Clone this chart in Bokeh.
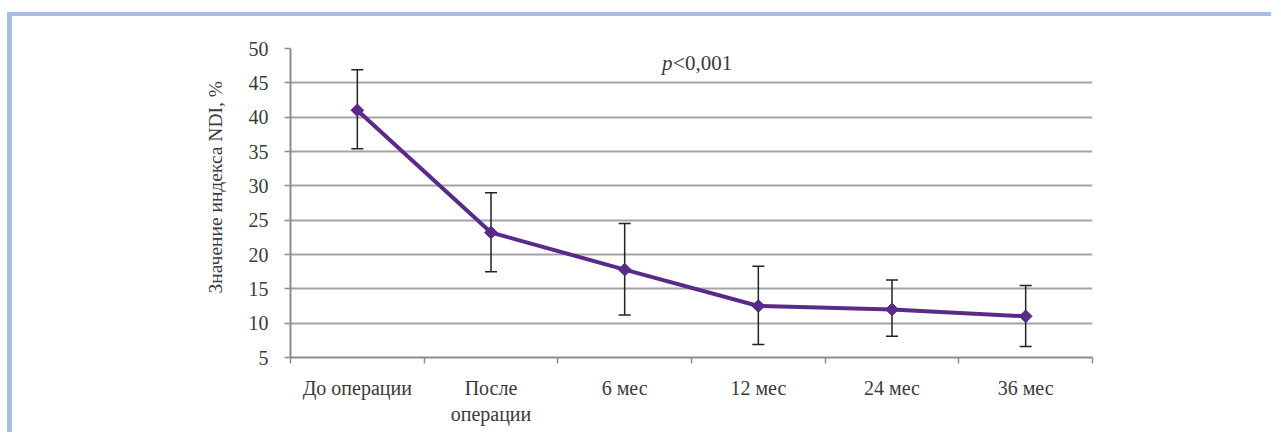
from bokeh.plotting import figure
from bokeh.models import (ColumnDataSource, FixedTicker, Whisker, TeeHead, Label, Range1d, Title)
from bokeh.embed import file_html
from bokeh.resources import INLINE

# ---- data ----
categories = ["До операции", "После\nоперации", "6 мес", "12 мес", "24 мес", "36 мес"]
ndi_mean = [41.0, 23.2, 17.8, 12.5, 12.0, 11.0]
ndi_upper = [46.9, 29.0, 24.5, 18.3, 16.3, 15.5]
ndi_lower = [35.4, 17.5, 11.2, 6.9, 8.1, 6.6]
y_ticks = [5, 10, 15, 20, 25, 30, 35, 40, 45, 50]
y_label = "Значение индекса NDI, %"
p_text_italic = "p"
p_text_rest = "<0,001"

FONT = "Liberation Serif"
TXT = "#3a3a3a"
GRID = "#a3a3a3"
PURPLE = "#5a2a88"
FRAME_BLUE = "#a9bedf"

xpos = [i + 0.5 for i in range(len(categories))]
src = ColumnDataSource(dict(x=xpos, y=ndi_mean, up=ndi_upper, lo=ndi_lower))

p = figure(width=1264, height=420, output_backend="svg", toolbar_location=None,
           x_range=Range1d(0, len(categories)), y_range=Range1d(5, 50),
           min_border_left=278, min_border_right=184, min_border_top=32, min_border_bottom=79)
p.styles = {"border-top": f"4px solid {FRAME_BLUE}", "border-left": f"5px solid {FRAME_BLUE}",
            "margin-top": "12px", "margin-left": "7px"}
p.outline_line_color = None
p.background_fill_color = "white"
p.border_fill_color = "white"

# axes
p.xaxis.ticker = FixedTicker(ticks=xpos, minor_ticks=list(range(len(categories) + 1)))
p.xaxis.major_label_overrides = {x: c for x, c in zip(xpos, categories)}
p.xaxis.major_tick_out = 0
p.xaxis.major_tick_in = 0
p.xaxis.minor_tick_out = 6
p.xaxis.minor_tick_in = 0
p.xaxis.minor_tick_line_color = "#8c8c8c"
p.xaxis.minor_tick_line_width = 1.5
p.xaxis.major_label_standoff = 13
p.xaxis.major_label_text_font_size = "20px"
p.xgrid.grid_line_color = None

p.yaxis.ticker = FixedTicker(ticks=y_ticks)
p.yaxis.major_tick_out = 6
p.yaxis.major_tick_in = 0
p.yaxis.minor_tick_line_color = None
p.yaxis.major_tick_line_color = "#8c8c8c"
p.yaxis.major_tick_line_width = 1.5
p.yaxis.major_label_standoff = 16
p.yaxis.major_label_text_font_size = "20px"
p.ygrid.ticker = FixedTicker(ticks=y_ticks)
p.ygrid.grid_line_color = GRID
p.ygrid.grid_line_width = 2

for ax in (p.xaxis, p.yaxis):
    ax.axis_line_color = "#8c8c8c"
    ax.axis_line_width = 2
    ax.major_label_text_font = FONT
    ax.major_label_text_color = TXT

# y-axis title as a side title (allows shifting along the axis)
p.add_layout(Title(text=y_label, align="left", offset=64, standoff=40,
                   text_font=FONT, text_font_size="19.5px", text_font_style="normal",
                   text_color=TXT), "left")

# error bars
w = Whisker(source=src, base="x", upper="up", lower="lo", line_color="#222222", line_width=1.5,
            upper_head=TeeHead(size=12, line_color="#222222", line_width=1.5),
            lower_head=TeeHead(size=12, line_color="#222222", line_width=1.5))
p.add_layout(w)

# line + markers
p.line("x", "y", source=src, line_color=PURPLE, line_width=4)
p.scatter("x", "y", source=src, marker="square", angle=0.785398, size=9,
          fill_color=PURPLE, line_color=PURPLE)

# p-value annotation
p.add_layout(Label(x=2.78, y=47.9, text=p_text_italic, text_font=FONT, text_font_size="21px",
                   text_font_style="italic", text_color=TXT, text_baseline="middle"))
p.add_layout(Label(x=2.78, y=47.9, x_offset=11, text=p_text_rest, text_font=FONT,
                   text_font_size="21px", text_color=TXT, text_baseline="middle"))

open("out.html", "w").write(file_html(p, INLINE))
